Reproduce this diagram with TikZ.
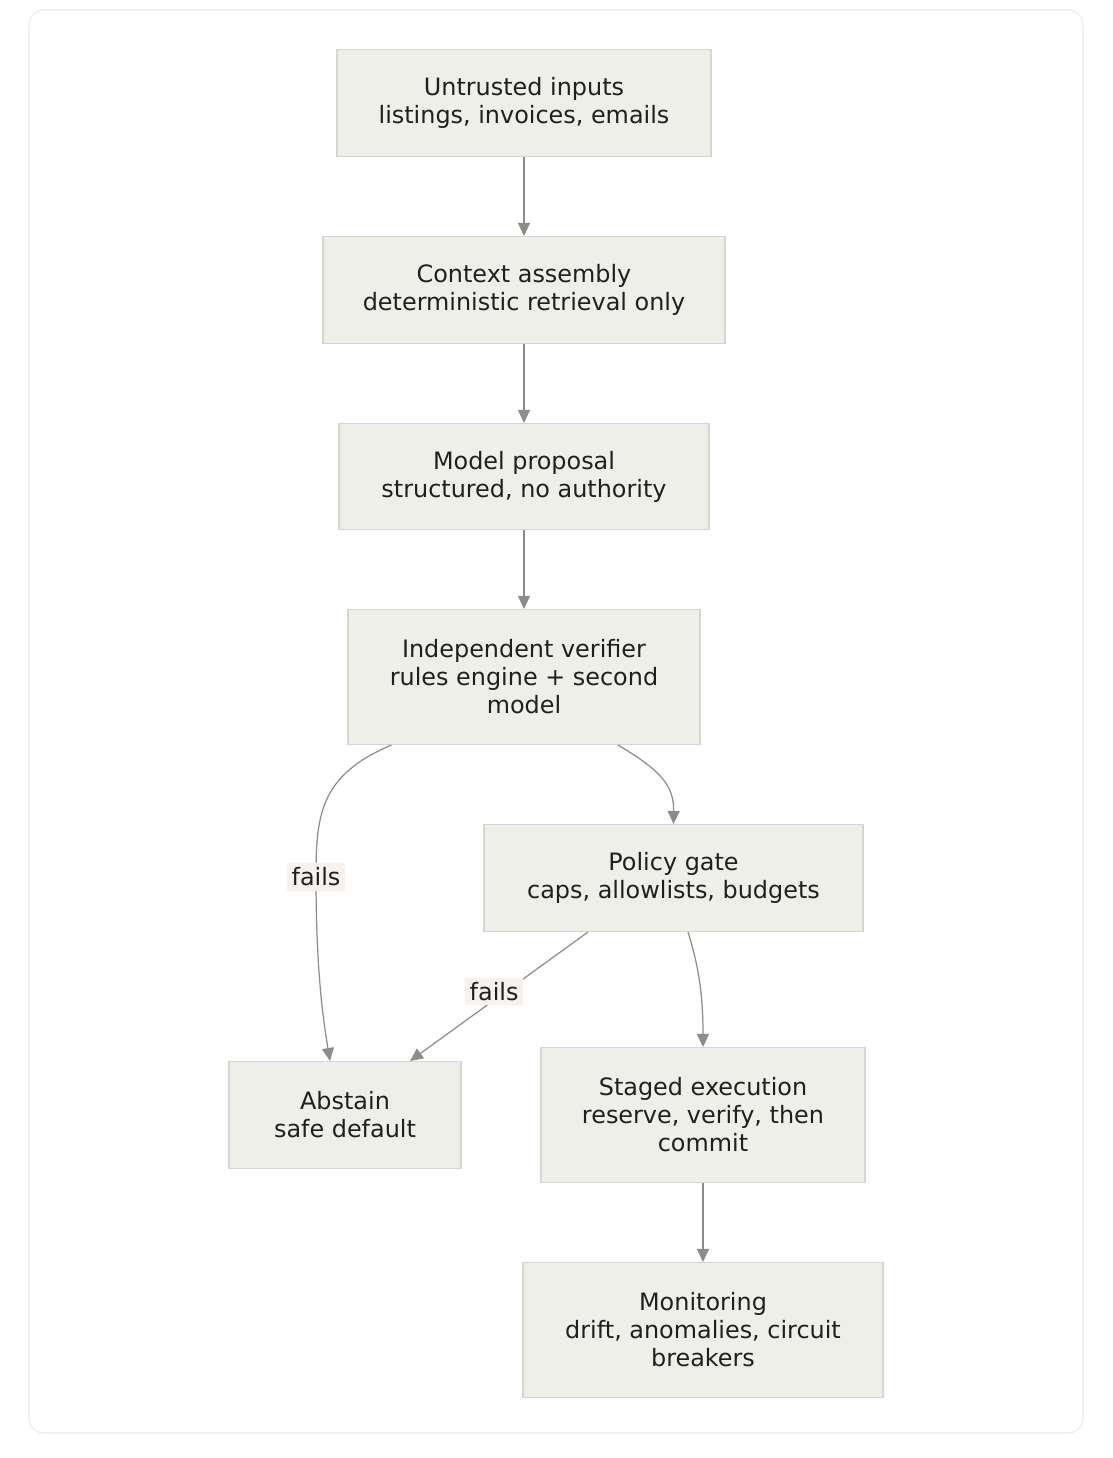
\documentclass[tikz,border=0pt]{standalone}
\usepackage{fontspec}
\setmainfont{DejaVu Sans}
\usepackage{tikz}
\usetikzlibrary{arrows.meta}
\usepackage{xcolor}
\definecolor{boxfill}{HTML}{EFEFEA}
\definecolor{boxline}{HTML}{D6D6D0}
\definecolor{arrowgray}{HTML}{8C8C88}
\definecolor{lblfill}{HTML}{F7F2EE}
\definecolor{framegray}{HTML}{E8E8E6}
\definecolor{inkcol}{HTML}{1F1F1F}

\begin{document}
\begin{tikzpicture}[
        stepbox/.style = {draw = boxline, fill = boxfill, line width = 0.6pt, align = center,
            text = inkcol, font = \fontsize{13.6}{15.9}\selectfont, inner sep = 0pt},
        flow/.style = {draw = arrowgray, line width = 0.7pt, -{Triangle[length = 0.26cm, width = 0.24cm]}},
        lbl/.style = {fill = lblfill, text = inkcol, font = \fontsize{13.6}{15.9}\selectfont, inner sep = 2.5pt}
    ]
        \useasboundingbox (0,0) rectangle (22.24,-29.16);
        \draw[framegray, line width = 0.6pt, rounded corners = 0.3cm] (0.58,-0.2) rectangle (21.66,-28.66);

        \node[stepbox, minimum width = 7.48cm, minimum height = 2.14cm] (inp) at (10.48,-2.06) {Untrusted inputs\\listings, invoices, emails};
        \node[stepbox, minimum width = 8.04cm, minimum height = 2.14cm] (ctx) at (10.48,-5.80) {Context assembly\\deterministic retrieval only};
        \node[stepbox, minimum width = 7.40cm, minimum height = 2.12cm] (prop) at (10.48,-9.53) {Model proposal\\structured, no authority};
        \node[stepbox, minimum width = 7.04cm, minimum height = 2.70cm] (ver) at (10.48,-13.54) {Independent verifier\\rules engine + second\\model};
        \node[stepbox, minimum width = 7.58cm, minimum height = 2.14cm] (pol) at (13.47,-17.56) {Policy gate\\caps, allowlists, budgets};
        \node[stepbox, minimum width = 4.64cm, minimum height = 2.14cm] (abst) at (6.90,-22.30) {Abstain\\safe default};
        \node[stepbox, minimum width = 6.48cm, minimum height = 2.70cm] (stg) at (14.06,-22.30) {Staged execution\\reserve, verify, then\\commit};
        \node[stepbox, minimum width = 7.20cm, minimum height = 2.70cm] (mon) at (14.06,-26.60) {Monitoring\\drift, anomalies, circuit\\breakers};

        \draw[flow] (inp) -- (ctx);
        \draw[flow] (ctx) -- (prop);
        \draw[flow] (prop) -- (ver);
        \draw[flow] ([xshift = 0.88cm]ver.south west) .. controls (6.4,-15.5) and (6.32,-16.3) .. (6.32,-17.54) node[lbl] {fails}
            .. controls (6.32,-19.6) and (6.5,-20.6) .. ([xshift = -0.30cm]abst.north);
        \draw[flow] ([xshift = 1.88cm]ver.south) .. controls (13.2,-15.4) and (13.48,-15.7) .. (pol.north);
        \draw[flow] ([xshift = -1.71cm]pol.south) -- ([xshift = 1.30cm]abst.north) node[lbl, pos = 0.46, xshift = -0.24cm] {fails};
        \draw[flow] ([xshift = 0.29cm]pol.south) .. controls (14.0,-19.4) and (14.06,-20.0) .. (stg.north);
        \draw[flow] (stg) -- (mon);
    \end{tikzpicture}
\end{document}
